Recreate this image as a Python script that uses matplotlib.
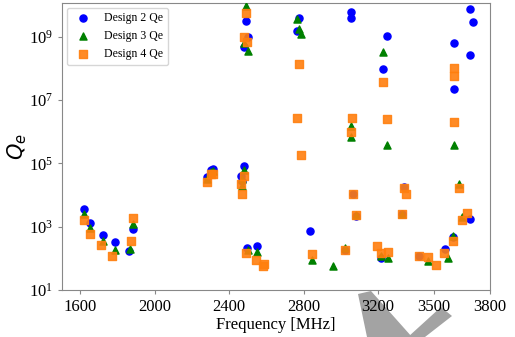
import matplotlib
matplotlib.use('Agg')
import matplotlib.pyplot as plt
from matplotlib.patches import Polygon

plt.rcParams['font.family'] = ['Liberation Serif', 'DejaVu Sans']
plt.rcParams['mathtext.fontset'] = 'dejavusans'

# Design 2 (blue circles)
f2 = [1621, 1653, 1721, 1788, 1863, 1884, 2283, 2302, 2311, 2462, 2480, 2471,
      2492, 2503, 2480, 2498, 2549, 2777, 2766, 2836, 3054, 3054, 3066, 3079,
      3022, 3214, 3248, 3228, 3337, 3330, 3419, 3561, 3600, 3694, 3694, 3708,
      3609, 3692, 3607]
q2 = [3.6e3, 1.3e3, 550, 325, 170, 870, 3.7e4, 6.2e4, 6.5e4, 4.1e4, 8.3e4, 2.8e4,
      3.2e9, 1.0e9, 4.6e8, 218, 245, 3.8e9, 1.5e9, 740, 5.9e9, 4.0e9, 1.05e4, 2.2e3,
      180, 105, 1.07e9, 9.6e7, 1.8e4, 2.5e3, 120, 193, 480, 1.8e3, 7.2e9, 2.8e9,
      6.2e8, 2.6e8, 2.3e7]

# Design 3 (green triangles)
f3 = [1621, 1653, 1721, 1788, 1867, 1884, 2283, 2302, 2311, 2480, 2467, 2467,
      2492, 2480, 2501, 2500, 2549, 2766, 2777, 2786, 2844, 2955, 3054, 3054,
      3079, 3022, 3228, 3248, 3214, 3253, 3330, 3467, 3573, 3600, 3632, 3609,
      3649]
q3 = [2500, 890, 360, 180, 193, 1200, 3.2e4, 5.5e4, 5.7e4, 6.2e4, 1.9e4, 3.3e4,
      9.6e9, 6.2e8, 3.6e8, 180, 162, 3.5e9, 1.8e9, 1.2e9, 89, 57, 1.5e6, 6.6e5,
      2.4e3, 212, 3.2e8, 3.8e5, 118, 105, 2.5e3, 83, 100, 520, 2.3e4, 3.8e5,
      2.0e3]

# Design 4 (orange squares)
f4 = [1621, 1650, 1710, 1771, 1870, 1884, 2281, 2300, 2311, 2462, 2480, 2467,
      2492, 2480, 2498, 2489, 2544, 2580, 2586, 2777, 2766, 2786, 2844, 3058,
      3054, 3066, 3079, 3022, 3196, 3214, 3253, 3228, 3248, 3337, 3348, 3330,
      3419, 3467, 3511, 3556, 3600, 3632, 3649, 3680, 3607, 3609, 3609]
q4 = [1620, 600, 257, 118, 355, 1900, 2.6e4, 4.7e4, 4.8e4, 2.2e4, 4.1e4, 1.07e4,
      5.5e9, 1.0e9, 6.9e8, 145, 89, 56, 66, 1.4e8, 2.7e6, 1.8e5, 138, 2.8e6,
      1.0e6, 1.07e4, 2.3e3, 183, 245, 145, 162, 3.6e7, 2.6e6, 1.7e4, 1.05e4, 2.5e3,
      120, 113, 62, 145, 355, 1.65e4, 1.6e3, 2.7e3, 1.0e8, 5.9e7, 2.0e6]

xticks = [1600, 2000, 2400, 2800, 3200, 3500, 3800]
yticks = [1e1, 1e3, 1e5, 1e7, 1e9]

fig = plt.figure(figsize=(5.15, 3.37), dpi=100)
ax = fig.add_axes([0.120, 0.139, 0.831, 0.852])

ax.scatter(f2, q2, s=26, marker='o', color='#0000ff', label='Design 2 Qe', zorder=3)
ax.scatter(f3, q3, s=26, marker='^', color='#008000', label='Design 3 Qe', zorder=4)
ax.scatter(f4, q4, s=26, marker='s', color='#ff7f0e', alpha=0.9, label='Design 4 Qe', zorder=5)

ax.set_yscale('log')
ax.set_xlim(1500, 3800)
ax.set_ylim(10, 1.15e10)
ax.set_xticks(xticks)
ax.set_yticks(yticks)
ax.minorticks_off()
ax.tick_params(labelsize=12, color='#888888', length=3)
for sp in ax.spines.values():
    sp.set_color('#888888')

ax.set_xlabel('Frequency [MHz]', fontsize=12, labelpad=1)
ax.set_ylabel('$Q_e$', fontsize=15, labelpad=0)

ax.legend(loc='upper left', fontsize=8.5, borderaxespad=0.4)

# grey chevron shapes at the bottom of the image (behind the tick labels)
W, H = 515.0, 337.0
left_shape = [(358, 294), (371, 291), (412, 337), (367, 337)]
right_shape = [(441, 307), (452, 316), (425, 337), (408, 337)]
for shape in [left_shape, right_shape]:
    pts = [(x / W, 1 - y / H) for x, y in shape]
    fig.patches.append(Polygon(pts, closed=True, transform=fig.transFigure,
                               facecolor='#a3a3a3', edgecolor='none', zorder=-1))

fig.savefig('out.png', dpi=100)
